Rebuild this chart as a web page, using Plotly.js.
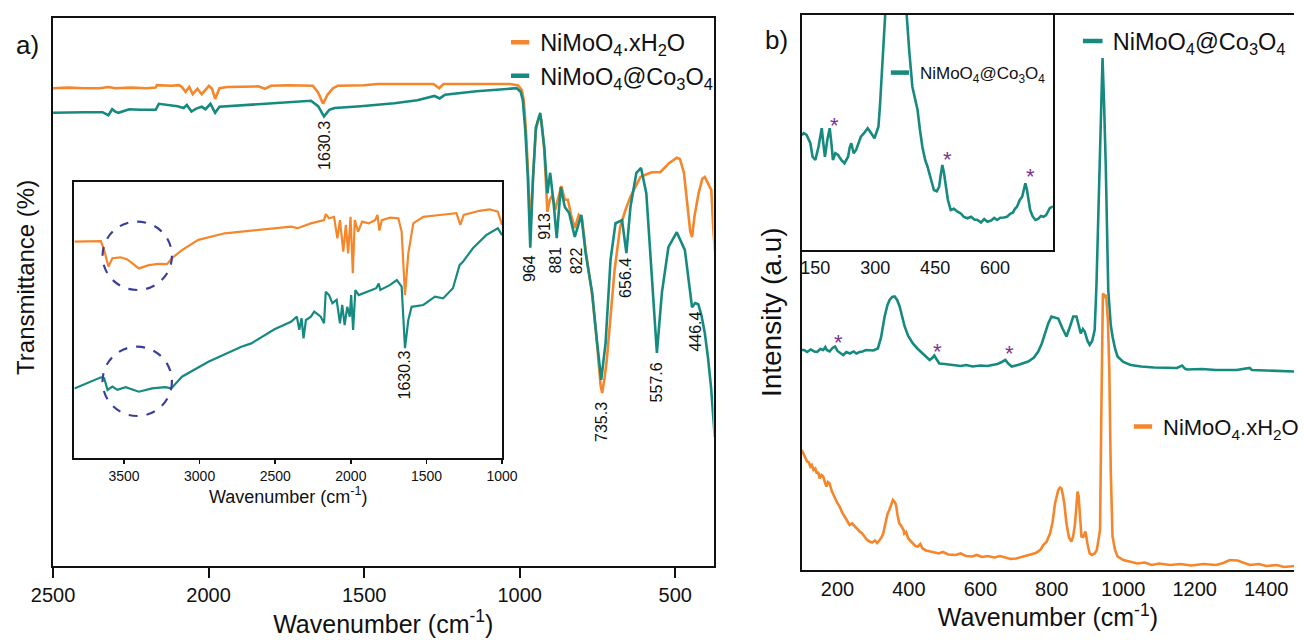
<!DOCTYPE html>
<html>
<head>
<meta charset="utf-8">
<script src="https://cdn.plot.ly/plotly-3.0.1.min.js"></script>
<style>html,body{margin:0;padding:0;background:#fff;}#chart{width:1304px;height:640px;}</style>
</head>
<body>
<div id="chart"></div>
<script>
// ---------- Panel a : FTIR (main) ----------
const ftirOrangeWn = [2500,2450,2400,2350,2322,2300,2250,2200,2170,2166,2120,2095,2086,2074,2062,2051,2036,2022,1999,1989,1979,1965,1940,1900,1840,1819,1800,1744,1700,1665,1648,1632,1618,1600,1585,1500,1457,1300,1277,1259,1245,1139,1033,1006,993,987,980,974,966,957,948,938,930,921,911,903,895,886,878,866,855,845,835,823,810,800,788,767,751,740,735,728,720,708,695,677,660,644,625,612,590,575,548,520,495,485,472,460,452,446,438,425,413,405,395,384,378,372];
const ftirOrangeT  = [85.3,85.4,85.3,85.3,85.5,85.3,85.4,85.3,85.4,85.8,85.7,85.8,85.5,84.7,85.5,84.3,85.2,84.3,85.7,85.2,83.5,85.3,85.5,85.5,85.6,85.2,85.7,85.8,85.8,85.7,84.6,82.7,84.2,85.3,85.7,85.8,86.0,85.9,86.0,85.3,86.0,86.0,86.0,85.8,85.0,83.3,78.3,72.2,62.0,70.5,78.3,80.5,80.0,75.0,64.7,66.7,67.5,65.0,66.7,69.0,66.7,66.7,64.2,62.0,64.2,63.7,58.3,50.8,42.5,35.8,34.5,36.7,40.0,46.7,55.0,62.2,65.0,67.2,69.2,70.5,71.0,71.3,71.3,72.8,73.7,73.5,71.2,66.0,61.5,60.5,64.0,67.8,70.2,70.5,69.5,68.3,62.0,57.8];
const ftirTealWn = [2500,2450,2400,2341,2322,2310,2300,2290,2270,2255,2220,2170,2160,2130,2100,2080,2070,2055,2040,2022,2010,1994,1979,1965,1904,1819,1744,1671,1648,1629,1612,1595,1511,1403,1329,1274,1257,1240,1139,1027,1010,997,990,982,974,966,957,948,934,921,911,902,891,881,868,855,841,823,802,788,767,751,738,724,708,692,671,657,644,625,610,593,575,559,543,522,495,469,446,436,426,416,405,395,385,373];
const ftirTealT  = [81.2,81.3,81.3,81.3,80.8,81.8,81.4,81.2,81.6,81.8,81.7,81.7,82.7,82.5,82.3,82.0,82.5,81.4,81.9,82.2,81.8,82.7,81.2,82.2,82.4,82.8,83.0,83.2,82.3,80.6,81.7,82.0,82.3,82.8,83.3,84.0,83.6,84.2,84.8,85.3,85.3,84.7,83.3,78.3,70.5,58.7,70.5,78.8,81.2,75.5,67.8,71.2,66.2,60.3,68.8,65.5,64.5,60.5,64.2,57.8,51.2,42.8,36.7,42.8,56.7,62.8,63.3,57.8,65.5,71.2,72.0,67.8,53.8,41.2,51.2,58.8,61.3,58.3,48.8,49.5,49.3,47.5,44.5,40.5,35.5,27.2];
const ftirTicks = [2500,2000,1500,1000,500];
const ftirPeakText = ['1630.3','964','913','881','822','656.4','735.3','557.6','446.4'];
const ftirPeakWn   = [1630,966,920,884,818,658,735,560,434];
const ftirPeakT    = [75.8,55.2,62.3,56.7,56.5,53.7,29.7,36.2,44.7];

// ---------- Panel a : FTIR inset ----------
const insetOrangeWn = [3828,3653,3631,3603,3577,3522,3478,3402,3336,3270,3216,3183,3117,3008,2833,2614,2396,2352,2264,2177,2166,2144,2111,2089,2072,2050,2033,2018,2002,1987,1974,1952,1926,1882,1839,1824,1811,1795,1740,1686,1664,1642,1620,1587,1521,1412,1302,1276,1254,1149,1083,1028,1000];
const insetOrangeT  = [76.1,76.3,73.3,67.8,70.6,70.9,70.2,67.2,68.3,68.7,68.6,70.6,73.3,76.7,78.9,80.0,81.1,80.6,82.2,83.3,85.3,83.9,84.4,77.2,83.3,72.8,81.7,72.2,84.4,65.6,83.3,79.4,82.8,82.2,83.3,85.0,79.8,83.3,84.1,83.9,79.4,58.3,72.2,82.2,84.4,85.0,85.6,81.7,85.0,86.4,86.9,86.1,81.7];
const insetTealWn = [3828,3686,3653,3631,3609,3577,3544,3489,3402,3314,3227,3187,3117,2942,2724,2658,2505,2396,2357,2341,2326,2313,2297,2264,2242,2199,2177,2166,2144,2122,2094,2072,2057,2041,2024,2007,1998,1985,1970,1948,1893,1832,1816,1805,1740,1696,1664,1642,1620,1598,1521,1444,1390,1325,1281,1259,1193,1105,1028,1000];
const insetTealT  = [27.2,30.0,30.9,30.6,26.7,27.8,26.7,27.6,26.1,27.2,27.6,27.2,31.1,36.1,41.1,42.2,46.9,49.4,51.1,46.7,50.6,43.9,50.0,51.1,52.8,51.1,48.9,59.4,58.3,55.6,56.7,48.9,55.0,48.3,54.4,51.1,58.3,46.7,60.0,58.3,59.4,60.6,62.2,60.0,61.7,63.3,61.1,40.6,50.0,54.4,55.0,57.8,57.2,60.6,68.3,69.4,73.9,78.3,80.6,78.3];
const insetFtirTicks = [3500,3000,2500,2000,1500,1000];

// ---------- Panel b : Raman (main) ----------
const ramanTealWn = [100,106,115,125,135,143,152,160,166,170,178,186,193,200,208,216,225,235,245,253,262,270,280,290,300,313,322,332,340,346,353,360,367,374,381,388,398,411,425,439,450,458,465,471,477,485,500,522,545,560,578,600,620,633,648,660,670,678,688,705,720,734,750,762,772,781,790,799,808,818,830,841,850,860,869,875,881,887,892,900,906,913,920,925,933,938,942,946,951,958,965,970,977,984,1000,1021,1050,1086,1120,1150,1165,1172,1178,1220,1260,1300,1317,1354,1360,1400,1440,1478];
const ramanTealI  = [45.0,45.0,44.6,45.1,44.7,44.6,45.2,45.0,45.6,45.0,44.7,45.4,45.7,44.8,44.4,44.0,44.6,44.3,44.7,44.3,44.6,44.7,45.0,45.0,44.9,45.3,47.5,51.7,54.0,55.0,55.6,55.7,55.0,53.7,51.8,49.7,47.8,46.3,45.2,44.3,43.6,43.0,43.4,43.9,43.2,42.3,42.2,42.0,41.8,42.0,41.7,41.9,41.8,42.0,42.2,42.6,43.0,42.3,41.7,42.0,42.3,42.7,43.5,44.7,46.3,48.3,50.3,51.7,51.5,51.3,49.3,47.7,49.5,51.7,51.7,49.8,48.3,49.2,48.7,46.8,46.0,46.8,49.0,58.0,82.0,95.0,103.4,95.0,82.0,57.0,50.0,47.7,45.3,43.7,42.6,42.0,41.7,41.5,41.5,41.4,41.9,41.3,41.1,41.2,41.0,41.1,41.0,41.4,41.0,40.9,40.8,40.7];
const ramanOrangeWn = [100,105,110,115,120,124,128,133,138,142,146,150,155,160,165,169,173,178,184,190,198,206,213,220,227,234,241,248,255,262,269,276,283,290,297,305,311,318,323,328,332,336,340,345,350,355,360,364,368,373,377,380,385,387,392,398,404,410,418,425,432,438,448,460,470,484,495,510,530,545,560,577,590,605,620,640,655,670,685,700,715,730,744,755,762,770,776,785,795,802,809,814,818,823,827,831,835,841,848,855,860,865,869,872,875,878,883,888,894,900,906,913,920,926,930,935,939,943,948,952,957,961,965,970,977,984,1000,1020,1040,1060,1080,1100,1132,1160,1190,1224,1260,1280,1298,1320,1340,1354,1380,1400,1430,1450,1465,1478];
const ramanOrangeI  = [25.0,24.3,23.6,22.7,22.5,21.7,22.0,21.0,21.3,20.3,20.6,19.3,20.0,19.7,18.5,17.7,18.6,18.3,16.8,15.7,14.6,13.7,12.5,11.7,10.9,10.0,10.3,9.7,9.2,8.7,8.3,7.7,7.0,6.7,6.5,6.9,6.4,7.0,7.5,8.3,9.5,11.0,12.2,13.0,14.0,15.0,14.6,14.0,12.0,10.3,10.0,9.7,9.0,8.3,8.6,7.3,6.8,6.3,5.8,5.7,6.2,5.3,4.9,4.7,4.5,4.3,4.6,4.1,4.0,4.3,3.8,3.7,4.0,3.6,3.8,3.5,3.8,3.5,3.2,3.3,3.6,3.9,4.3,4.4,4.7,5.2,6.0,6.6,8.3,10.5,14.3,16.0,17.0,17.5,17.3,16.0,14.3,10.3,7.5,6.7,7.8,10.3,14.5,16.7,15.8,13.0,7.7,7.6,8.7,6.2,4.3,4.0,4.3,5.0,7.0,9.0,34.3,56.3,55.7,56.0,51.0,41.0,21.0,7.7,5.0,3.7,3.0,2.6,2.3,2.5,2.0,2.3,2.0,2.2,1.9,2.2,2.0,2.4,3.0,2.9,2.3,2.0,2.2,1.8,2.0,1.6,1.7,1.8];
const ramanTicks = [200,400,600,800,1000,1200,1400];
const ramanStarWn = [193,469,670];
const ramanStarI  = [46.9,45.1,44.7];

// ---------- Panel b : Raman inset ----------
const insetRamanWn = [116,121,128,133,137.5,143,150,158,162,166,170,174,180,186,190,194,200,207,215,223,232,236,240,246,252,258,264,272,281,290,298,303,308,312,316,320,323,330,345,360,370,377,380,385,393,400,406,412,418,425,431,440,447,454,460,464,468,472,476,482,489,497,506,515,522,531,540,548,556,565,573,581,590,598,605,613,622,630,638,645,650,655,662,668,672,676,680,684,688,694,701,708,715,721,728,733,737,745];
const insetRamanI  = [46.0,46.7,46.0,44.0,42.7,37.3,36.0,41.3,45.0,48.7,42.7,37.3,44.0,48.7,43.0,36.0,38.7,38.0,36.0,34.7,37.3,41.0,42.7,38.7,40.0,42.7,45.3,46.7,48.7,46.7,44.7,47.0,49.3,58.0,73.3,88.0,94.7,115,150,160,130,98,90,80.0,65.3,60.0,56.0,48.0,41.3,36.0,33.3,28.0,24.0,23.5,25.3,30.0,34.0,31.0,26.0,20.0,16.0,16.5,15.3,14.5,13.2,12.7,13.3,12.2,12.0,11.0,12.4,11.3,11.8,12.8,12.0,12.9,13.0,13.3,14.5,15.0,16.5,17.3,20.0,21.3,24.0,26.7,24.0,19.0,16.0,13.5,12.0,12.4,13.6,13.3,14.0,15.5,16.7,17.5];
const insetRamanTicks = [150,300,450,600];
const insetStarWn = [186,468,676];
const insetStarI  = [50.7,37.1,30.0];

// ---------- names / colours ----------
const nameHydrate = 'NiMoO<sub>4</sub>.xH<sub>2</sub>O';
const nameComposite = 'NiMoO<sub>4</sub>@Co<sub>3</sub>O<sub>4</sub>';
const ORANGE = '#F5862C';
const TEAL = '#178A80';
const STAR = '#7B3294';
const INK = '#111111';
const FONT = 'Liberation Sans, Arial, Helvetica, sans-serif';

function line(x, y, color, w, xa, ya) {
  return {x: x, y: y, type: 'scatter', mode: 'lines', line: {color: color, width: w, shape: 'linear'},
          xaxis: xa, yaxis: ya, showlegend: false, hoverinfo: 'skip'};
}
function legendItem(name, color, legendId, xa, ya, size, lw) {
  return {x: [null], y: [null], type: 'scatter', mode: 'markers', name: name, legend: legendId,
          xaxis: xa, yaxis: ya, showlegend: true,
          marker: {symbol: 'line-ew-open', size: size, color: color, line: {color: color, width: lw}}};
}

const traces = [
  line(ftirOrangeWn, ftirOrangeT, ORANGE, 2.6, 'x', 'y'),
  line(ftirTealWn, ftirTealT, TEAL, 2.6, 'x', 'y'),
  line(insetOrangeWn, insetOrangeT, ORANGE, 2.2, 'x2', 'y2'),
  line(insetTealWn, insetTealT, TEAL, 2.2, 'x2', 'y2'),
  line(ramanTealWn, ramanTealI, TEAL, 2.6, 'x3', 'y3'),
  line(ramanOrangeWn, ramanOrangeI, ORANGE, 2.6, 'x3', 'y3'),
  line(insetRamanWn, insetRamanI, TEAL, 2.6, 'x4', 'y4'),
  legendItem(nameHydrate, ORANGE, 'legend', 'x', 'y', 13, 4.5),
  legendItem(nameComposite, TEAL, 'legend', 'x', 'y', 13, 4.5),
  legendItem(nameComposite, TEAL, 'legend2', 'x3', 'y3', 14, 4.5),
  legendItem(nameHydrate, ORANGE, 'legend3', 'x3', 'y3', 13, 4.5),
  legendItem(nameComposite, TEAL, 'legend4', 'x4', 'y4', 13, 4.5)
];

const annotations = [];
ftirPeakText.forEach((t, i) => annotations.push({
  xref: 'x', yref: 'y', x: ftirPeakWn[i], y: ftirPeakT[i], text: t, textangle: -90,
  showarrow: false, xanchor: 'center', yanchor: 'middle', font: {size: 16, color: INK}
}));
annotations.push({xref: 'x2', yref: 'y2', x: 1645, y: 31.7, text: '1630.3', textangle: -90,
  showarrow: false, xanchor: 'center', yanchor: 'middle', font: {size: 16, color: INK}});
ramanStarWn.forEach((w, i) => annotations.push({xref: 'x3', yref: 'y3', x: w, y: ramanStarI[i], text: '*',
  showarrow: false, xanchor: 'center', yanchor: 'middle', xshift: 4, yshift: -2, font: {size: 22, color: STAR}}));
insetStarWn.forEach((w, i) => annotations.push({xref: 'x4', yref: 'y4', x: w, y: insetStarI[i], text: '*',
  showarrow: false, xanchor: 'center', yanchor: 'middle', xshift: 5, yshift: -2, font: {size: 22, color: STAR}}));
annotations.push({xref: 'paper', yref: 'paper', x: 0.0215, y: 0.930, text: 'a)', showarrow: false,
  xanchor: 'center', yanchor: 'middle', font: {size: 26, color: INK}});
annotations.push({xref: 'paper', yref: 'paper', x: 0.5997, y: 0.9375, text: 'b)', showarrow: false,
  xanchor: 'center', yanchor: 'middle', font: {size: 26, color: INK}});
annotations.push({xref: 'paper', yref: 'paper', x: 0.0192, y: 0.567, text: 'Transmittance (%)', textangle: -90,
  showarrow: false, xanchor: 'center', yanchor: 'middle', font: {size: 24, color: INK}});
annotations.push({xref: 'paper', yref: 'paper', x: 0.5959, y: 0.5125, text: 'Intensity (a.u)', textangle: -90,
  showarrow: false, xanchor: 'center', yanchor: 'middle', font: {size: 28, color: INK}});

const circleStyle = {color: '#3B3F9C', width: 2.2, dash: 'dash'};
const shapes = [
  {type: 'circle', xref: 'x2', yref: 'y2', x0: 3642, x1: 3183, y0: 60.0, y1: 82.8, line: circleStyle},
  {type: 'circle', xref: 'x2', yref: 'y2', x0: 3642, x1: 3183, y0: 18.0, y1: 41.1, line: circleStyle}
];

const frame = {showline: true, linecolor: INK, linewidth: 2, showgrid: false, zeroline: false, mirror: true};
const legendBase = {bgcolor: 'rgba(0,0,0,0)', borderwidth: 0, xanchor: 'left', yanchor: 'top',
  itemwidth: 30, tracegroupgap: 0, itemclick: false, itemdoubleclick: false};

const layout = {
  width: 1304, height: 640,
  margin: {l: 0, r: 0, t: 0, b: 0},
  paper_bgcolor: '#ffffff', plot_bgcolor: '#ffffff',
  font: {family: FONT, color: INK},
  showlegend: true,
  xaxis: Object.assign({}, frame, {domain: [0.0410, 0.5514], range: [2500, 377], anchor: 'y',
    tickmode: 'array', tickvals: ftirTicks, ticks: 'outside', ticklen: 10, tickwidth: 2, tickcolor: INK,
    tickfont: {size: 20}, title: {text: 'Wavenumber (cm<sup>-1</sup>)', font: {size: 25}, standoff: 4}, automargin: false}),
  yaxis: Object.assign({}, frame, {domain: [0.1156, 0.9719], range: [5.67, 97], anchor: 'x',
    showticklabels: false, ticks: ''}),
  xaxis2: Object.assign({}, frame, {domain: [0.0575, 0.3880], range: [3828, 1000], anchor: 'y2',
    tickmode: 'array', tickvals: insetFtirTicks, ticks: 'outside', ticklen: 4, tickwidth: 1.5, tickcolor: INK,
    tickfont: {size: 14}, title: {text: 'Wavenumber (cm<sup>-1</sup>)', font: {size: 18}, standoff: 2}, automargin: false}),
  yaxis2: Object.assign({}, frame, {domain: [0.2839, 0.7161], range: [3.9, 96.1], anchor: 'x2',
    showticklabels: false, ticks: ''}),
  xaxis3: Object.assign({}, frame, {domain: [0.6196, 1.0], range: [100, 1478], anchor: 'y3',
    tickmode: 'array', tickvals: ramanTicks, ticks: '', tickfont: {size: 20},
    title: {text: 'Wavenumber (cm<sup>-1</sup>)', font: {size: 25}, standoff: 4}, automargin: false}),
  yaxis3: Object.assign({}, frame, {domain: [0.1094, 0.9766], range: [1, 112], anchor: 'x3',
    mirror: false, showticklabels: false, ticks: ''}),
  xaxis4: Object.assign({}, frame, {domain: [0.6196, 0.8137], range: [116, 745], anchor: 'y4',
    tickmode: 'array', tickvals: insetRamanTicks, ticks: '', tickfont: {size: 18}, automargin: false}),
  yaxis4: Object.assign({}, frame, {domain: [0.6094, 0.9766], range: [0, 94], anchor: 'x4',
    showticklabels: false, ticks: ''}),
  legend: Object.assign({}, legendBase, {x: 0.3865, y: 0.968, font: {size: 23.5, color: INK}}),
  legend2: Object.assign({}, legendBase, {x: 0.829, y: 0.970, font: {size: 23.5, color: INK}}),
  legend3: Object.assign({}, legendBase, {x: 0.868, y: 0.366, font: {size: 22, color: INK}}),
  legend4: Object.assign({}, legendBase, {x: 0.680, y: 0.914, font: {size: 17, color: INK}}),
  annotations: annotations,
  shapes: shapes
};

Plotly.newPlot('chart', traces, layout, {displayModeBar: false, staticPlot: true});
</script>
</body>
</html>
